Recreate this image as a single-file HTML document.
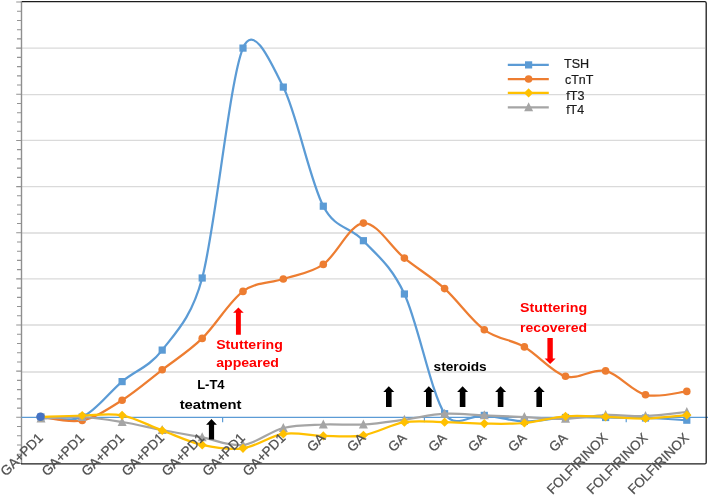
<!DOCTYPE html>
<html><head><meta charset="utf-8"><style>
html,body{margin:0;padding:0;background:#fff;}
body{width:708px;height:496px;overflow:hidden;font-family:"Liberation Sans",sans-serif;}
svg{display:block;will-change:transform;}
</style></head><body>
<svg width="708" height="496" viewBox="0 0 708 496">
<line x1="21.5" y1="48.20" x2="705" y2="48.20" stroke="#DADADA" stroke-width="1.3"/>
<line x1="21.5" y1="94.60" x2="705" y2="94.60" stroke="#DADADA" stroke-width="1.3"/>
<line x1="21.5" y1="140.40" x2="705" y2="140.40" stroke="#DADADA" stroke-width="1.3"/>
<line x1="21.5" y1="186.70" x2="705" y2="186.70" stroke="#DADADA" stroke-width="1.3"/>
<line x1="21.5" y1="233.00" x2="705" y2="233.00" stroke="#DADADA" stroke-width="1.3"/>
<line x1="21.5" y1="278.90" x2="705" y2="278.90" stroke="#DADADA" stroke-width="1.3"/>
<line x1="21.5" y1="325.00" x2="705" y2="325.00" stroke="#DADADA" stroke-width="1.3"/>
<line x1="21.5" y1="372.00" x2="705" y2="372.00" stroke="#DADADA" stroke-width="1.3"/>
<path d="M16.2,2.00H21.5 M17.0,11.23H21.5 M17.0,20.46H21.5 M17.0,29.69H21.5 M17.0,38.92H21.5 M16.2,48.14H21.5 M17.0,57.37H21.5 M17.0,66.60H21.5 M17.0,75.83H21.5 M17.0,85.06H21.5 M16.2,94.29H21.5 M17.0,103.52H21.5 M17.0,112.75H21.5 M17.0,121.98H21.5 M17.0,131.21H21.5 M16.2,140.44H21.5 M17.0,149.66H21.5 M17.0,158.89H21.5 M17.0,168.12H21.5 M17.0,177.35H21.5 M16.2,186.58H21.5 M17.0,195.81H21.5 M17.0,205.04H21.5 M17.0,214.27H21.5 M17.0,223.50H21.5 M16.2,232.72H21.5 M17.0,241.95H21.5 M17.0,251.18H21.5 M17.0,260.41H21.5 M17.0,269.64H21.5 M16.2,278.87H21.5 M17.0,288.10H21.5 M17.0,297.33H21.5 M17.0,306.56H21.5 M17.0,315.79H21.5 M16.2,325.01H21.5 M17.0,334.24H21.5 M17.0,343.47H21.5 M17.0,352.70H21.5 M17.0,361.93H21.5 M16.2,371.16H21.5 M17.0,380.39H21.5 M17.0,389.62H21.5 M17.0,398.85H21.5 M17.0,408.08H21.5 M16.2,417.30H21.5 M17.0,426.53H21.5 M17.0,435.76H21.5 M17.0,444.99H21.5 M17.0,454.22H21.5 M16.2,463.45H21.5" stroke="#939393" stroke-width="1.1" fill="none"/>
<line x1="21.5" y1="1.0" x2="21.5" y2="464" stroke="#8F8F8F" stroke-width="1.4"/>
<line x1="21.5" y1="417.3" x2="708" y2="417.3" stroke="#5B9BD5" stroke-width="1.2"/>
<path d="M222.62,417.30V422.30 M424.42,417.30V422.30 M626.22,417.30V422.30" stroke="#5B9BD5" stroke-width="1.2"/>
<path d="M22,1.6 H704.8 Q706.2,1.6 706.2,3 V462.4 Q706.2,463.9 704.8,463.9 H21" stroke="#1c1c1c" stroke-width="1.3" fill="none"/>
<path d="M41.00,417.00 C47.87,417.00 68.68,422.90 82.20,417.00 C95.72,411.10 108.77,392.75 122.10,381.60 C135.43,370.45 148.85,367.37 162.20,350.10 C175.55,332.83 191.54,317.83 202.20,278.00 C215.67,227.67 229.48,79.92 243.00,48.10 C253.96,22.29 270.60,62.10 283.30,87.10 C296.68,113.45 309.95,180.60 323.30,206.20 C335.53,229.65 349.88,226.07 363.40,240.70 C376.92,255.33 390.87,265.17 404.40,294.00 C417.93,322.83 431.28,393.47 444.60,413.70 C455.52,430.30 471.00,414.12 484.30,415.40 C497.60,416.68 510.87,421.05 524.40,421.40 C537.93,421.75 551.97,418.15 565.50,417.50 C579.03,416.85 592.27,417.42 605.60,417.50 C618.93,417.58 631.97,417.55 645.50,418.00 C659.03,418.45 679.92,419.83 686.80,420.20" stroke="#5B9BD5" stroke-width="2.25" fill="none" stroke-linejoin="round"/><rect x="37.40" y="413.40" width="7.2" height="7.2" fill="#5B9BD5"/><rect x="78.60" y="413.40" width="7.2" height="7.2" fill="#5B9BD5"/><rect x="118.50" y="378.00" width="7.2" height="7.2" fill="#5B9BD5"/><rect x="158.60" y="346.50" width="7.2" height="7.2" fill="#5B9BD5"/><rect x="198.60" y="274.40" width="7.2" height="7.2" fill="#5B9BD5"/><rect x="239.40" y="44.50" width="7.2" height="7.2" fill="#5B9BD5"/><rect x="279.70" y="83.50" width="7.2" height="7.2" fill="#5B9BD5"/><rect x="319.70" y="202.60" width="7.2" height="7.2" fill="#5B9BD5"/><rect x="359.80" y="237.10" width="7.2" height="7.2" fill="#5B9BD5"/><rect x="400.80" y="290.40" width="7.2" height="7.2" fill="#5B9BD5"/><rect x="441.00" y="410.10" width="7.2" height="7.2" fill="#5B9BD5"/><rect x="480.70" y="411.80" width="7.2" height="7.2" fill="#5B9BD5"/><rect x="520.80" y="417.80" width="7.2" height="7.2" fill="#5B9BD5"/><rect x="561.90" y="413.90" width="7.2" height="7.2" fill="#5B9BD5"/><rect x="602.00" y="413.90" width="7.2" height="7.2" fill="#5B9BD5"/><rect x="641.90" y="414.40" width="7.2" height="7.2" fill="#5B9BD5"/><rect x="683.20" y="416.60" width="7.2" height="7.2" fill="#5B9BD5"/>
<path d="M41.00,417.00 C47.87,417.57 68.68,423.20 82.20,420.40 C95.72,417.60 108.77,408.63 122.10,400.20 C135.43,391.77 148.85,380.10 162.20,369.80 C175.55,359.50 188.73,351.47 202.20,338.40 C215.67,325.33 229.48,301.30 243.00,291.40 C256.52,281.50 269.92,283.50 283.30,279.00 C296.68,274.50 309.95,273.72 323.30,264.40 C336.65,255.08 349.88,224.15 363.40,223.10 C376.92,222.05 390.87,247.18 404.40,258.10 C417.93,269.02 431.28,276.65 444.60,288.60 C457.92,300.55 471.00,320.08 484.30,329.80 C497.60,339.52 510.87,339.15 524.40,346.90 C537.93,354.65 551.97,372.30 565.50,376.30 C579.03,380.30 592.27,367.82 605.60,370.90 C618.93,373.98 631.97,391.38 645.50,394.80 C659.03,398.22 679.92,391.97 686.80,391.40" stroke="#ED7D31" stroke-width="2.25" fill="none" stroke-linejoin="round"/><circle cx="41.00" cy="417.00" r="3.8" fill="#ED7D31"/><circle cx="82.20" cy="420.40" r="3.8" fill="#ED7D31"/><circle cx="122.10" cy="400.20" r="3.8" fill="#ED7D31"/><circle cx="162.20" cy="369.80" r="3.8" fill="#ED7D31"/><circle cx="202.20" cy="338.40" r="3.8" fill="#ED7D31"/><circle cx="243.00" cy="291.40" r="3.8" fill="#ED7D31"/><circle cx="283.30" cy="279.00" r="3.8" fill="#ED7D31"/><circle cx="323.30" cy="264.40" r="3.8" fill="#ED7D31"/><circle cx="363.40" cy="223.10" r="3.8" fill="#ED7D31"/><circle cx="404.40" cy="258.10" r="3.8" fill="#ED7D31"/><circle cx="444.60" cy="288.60" r="3.8" fill="#ED7D31"/><circle cx="484.30" cy="329.80" r="3.8" fill="#ED7D31"/><circle cx="524.40" cy="346.90" r="3.8" fill="#ED7D31"/><circle cx="565.50" cy="376.30" r="3.8" fill="#ED7D31"/><circle cx="605.60" cy="370.90" r="3.8" fill="#ED7D31"/><circle cx="645.50" cy="394.80" r="3.8" fill="#ED7D31"/><circle cx="686.80" cy="391.40" r="3.8" fill="#ED7D31"/>
<path d="M41.00,418.50 C47.87,418.25 68.68,416.42 82.20,417.00 C95.72,417.58 108.77,419.83 122.10,422.00 C135.43,424.17 148.85,427.43 162.20,430.00 C175.55,432.57 188.73,434.90 202.20,437.40 C215.67,439.90 229.48,446.57 243.00,445.00 C256.52,443.43 269.92,431.42 283.30,428.00 C296.68,424.58 309.95,425.08 323.30,424.50 C336.65,423.92 349.88,425.30 363.40,424.50 C376.92,423.70 390.87,421.50 404.40,419.70 C417.93,417.90 431.28,414.42 444.60,413.70 C457.92,412.98 471.00,414.83 484.30,415.40 C497.60,415.97 510.87,416.53 524.40,417.10 C537.93,417.67 551.97,419.15 565.50,418.80 C579.03,418.45 592.27,415.47 605.60,415.00 C618.93,414.53 631.97,416.50 645.50,416.00 C659.03,415.50 679.92,412.67 686.80,412.00" stroke="#A5A5A5" stroke-width="2.25" fill="none" stroke-linejoin="round"/><path d="M41.00,413.46 L45.50,422.46 L36.50,422.46Z" fill="#A5A5A5"/><path d="M82.20,411.96 L86.70,420.96 L77.70,420.96Z" fill="#A5A5A5"/><path d="M122.10,416.96 L126.60,425.96 L117.60,425.96Z" fill="#A5A5A5"/><path d="M162.20,424.96 L166.70,433.96 L157.70,433.96Z" fill="#A5A5A5"/><path d="M202.20,432.36 L206.70,441.36 L197.70,441.36Z" fill="#A5A5A5"/><path d="M243.00,439.96 L247.50,448.96 L238.50,448.96Z" fill="#A5A5A5"/><path d="M283.30,422.96 L287.80,431.96 L278.80,431.96Z" fill="#A5A5A5"/><path d="M323.30,419.46 L327.80,428.46 L318.80,428.46Z" fill="#A5A5A5"/><path d="M363.40,419.46 L367.90,428.46 L358.90,428.46Z" fill="#A5A5A5"/><path d="M404.40,414.66 L408.90,423.66 L399.90,423.66Z" fill="#A5A5A5"/><path d="M444.60,408.66 L449.10,417.66 L440.10,417.66Z" fill="#A5A5A5"/><path d="M484.30,410.36 L488.80,419.36 L479.80,419.36Z" fill="#A5A5A5"/><path d="M524.40,412.06 L528.90,421.06 L519.90,421.06Z" fill="#A5A5A5"/><path d="M565.50,413.76 L570.00,422.76 L561.00,422.76Z" fill="#A5A5A5"/><path d="M605.60,409.96 L610.10,418.96 L601.10,418.96Z" fill="#A5A5A5"/><path d="M645.50,410.96 L650.00,419.96 L641.00,419.96Z" fill="#A5A5A5"/><path d="M686.80,406.96 L691.30,415.96 L682.30,415.96Z" fill="#A5A5A5"/>
<path d="M41.00,417.00 C47.87,416.75 68.68,415.78 82.20,415.50 C95.72,415.22 108.77,412.80 122.10,415.30 C135.43,417.80 148.85,425.57 162.20,430.50 C175.55,435.43 188.73,441.93 202.20,444.90 C215.67,447.87 229.48,450.13 243.00,448.30 C256.52,446.47 269.92,435.97 283.30,433.90 C296.68,431.83 309.95,435.67 323.30,435.90 C336.65,436.13 349.88,437.58 363.40,435.30 C376.92,433.02 390.87,424.38 404.40,422.20 C417.93,420.02 431.28,421.97 444.60,422.20 C457.92,422.43 471.00,423.47 484.30,423.60 C497.60,423.73 510.87,424.22 524.40,423.00 C537.93,421.78 551.97,417.33 565.50,416.30 C579.03,415.27 592.27,416.43 605.60,416.80 C618.93,417.17 631.97,418.78 645.50,418.50 C659.03,418.22 679.92,415.67 686.80,415.10" stroke="#FFC000" stroke-width="2.25" fill="none" stroke-linejoin="round"/><path d="M41.00,412.40 L45.60,417.00 L41.00,421.60 L36.40,417.00Z" fill="#FFC000"/><path d="M82.20,410.90 L86.80,415.50 L82.20,420.10 L77.60,415.50Z" fill="#FFC000"/><path d="M122.10,410.70 L126.70,415.30 L122.10,419.90 L117.50,415.30Z" fill="#FFC000"/><path d="M162.20,425.90 L166.80,430.50 L162.20,435.10 L157.60,430.50Z" fill="#FFC000"/><path d="M202.20,440.30 L206.80,444.90 L202.20,449.50 L197.60,444.90Z" fill="#FFC000"/><path d="M243.00,443.70 L247.60,448.30 L243.00,452.90 L238.40,448.30Z" fill="#FFC000"/><path d="M283.30,429.30 L287.90,433.90 L283.30,438.50 L278.70,433.90Z" fill="#FFC000"/><path d="M323.30,431.30 L327.90,435.90 L323.30,440.50 L318.70,435.90Z" fill="#FFC000"/><path d="M363.40,430.70 L368.00,435.30 L363.40,439.90 L358.80,435.30Z" fill="#FFC000"/><path d="M404.40,417.60 L409.00,422.20 L404.40,426.80 L399.80,422.20Z" fill="#FFC000"/><path d="M444.60,417.60 L449.20,422.20 L444.60,426.80 L440.00,422.20Z" fill="#FFC000"/><path d="M484.30,419.00 L488.90,423.60 L484.30,428.20 L479.70,423.60Z" fill="#FFC000"/><path d="M524.40,418.40 L529.00,423.00 L524.40,427.60 L519.80,423.00Z" fill="#FFC000"/><path d="M565.50,411.70 L570.10,416.30 L565.50,420.90 L560.90,416.30Z" fill="#FFC000"/><path d="M605.60,412.20 L610.20,416.80 L605.60,421.40 L601.00,416.80Z" fill="#FFC000"/><path d="M645.50,413.90 L650.10,418.50 L645.50,423.10 L640.90,418.50Z" fill="#FFC000"/><path d="M686.80,410.50 L691.40,415.10 L686.80,419.70 L682.20,415.10Z" fill="#FFC000"/>
<circle cx="40.50" cy="416.70" r="4.3" fill="#4472C4"/>
<g font-family="Liberation Sans, sans-serif" font-size="13.5" fill="#505050" stroke="#505050" stroke-width="0.25"><text x="43.90" y="438.80" transform="rotate(-45 43.90 438.80)" text-anchor="end">GA+PD1</text><text x="85.10" y="438.80" transform="rotate(-45 85.10 438.80)" text-anchor="end">GA+PD1</text><text x="125.00" y="438.80" transform="rotate(-45 125.00 438.80)" text-anchor="end">GA+PD1</text><text x="165.10" y="438.80" transform="rotate(-45 165.10 438.80)" text-anchor="end">GA+PD1</text><text x="205.10" y="438.80" transform="rotate(-45 205.10 438.80)" text-anchor="end">GA+PD1</text><text x="245.90" y="438.80" transform="rotate(-45 245.90 438.80)" text-anchor="end">GA+PD1</text><text x="286.20" y="438.80" transform="rotate(-45 286.20 438.80)" text-anchor="end">GA+PD1</text><text x="326.20" y="438.80" transform="rotate(-45 326.20 438.80)" text-anchor="end">GA</text><text x="366.30" y="438.80" transform="rotate(-45 366.30 438.80)" text-anchor="end">GA</text><text x="407.30" y="438.80" transform="rotate(-45 407.30 438.80)" text-anchor="end">GA</text><text x="447.50" y="438.80" transform="rotate(-45 447.50 438.80)" text-anchor="end">GA</text><text x="487.20" y="438.80" transform="rotate(-45 487.20 438.80)" text-anchor="end">GA</text><text x="527.30" y="438.80" transform="rotate(-45 527.30 438.80)" text-anchor="end">GA</text><text x="568.40" y="438.80" transform="rotate(-45 568.40 438.80)" text-anchor="end">GA</text><text x="608.50" y="438.80" transform="rotate(-45 608.50 438.80)" text-anchor="end" textLength="79.3" lengthAdjust="spacingAndGlyphs">FOLFIRINOX</text><text x="648.40" y="438.80" transform="rotate(-45 648.40 438.80)" text-anchor="end" textLength="79.3" lengthAdjust="spacingAndGlyphs">FOLFIRINOX</text><text x="689.70" y="438.80" transform="rotate(-45 689.70 438.80)" text-anchor="end" textLength="79.3" lengthAdjust="spacingAndGlyphs">FOLFIRINOX</text></g>
<path d="M238.40,307.40 L243.70,312.80 L240.85,312.80 L240.85,334.70 L235.95,334.70 L235.95,312.80 L233.10,312.80Z" fill="#FF0000"/>
<path d="M550.10,364.00 L555.60,358.40 L552.80,358.40 L552.80,337.90 L547.40,337.90 L547.40,358.40 L544.60,358.40Z" fill="#FF0000"/>
<path d="M211.50,419.00 L216.90,424.80 L214.10,424.80 L214.10,439.60 L208.90,439.60 L208.90,424.80 L206.10,424.80Z" fill="#000"/>
<path d="M388.80,386.30 L394.30,392.00 L391.60,392.00 L391.60,407.00 L386.00,407.00 L386.00,392.00 L383.30,392.00Z" fill="#000"/>
<path d="M428.80,386.30 L434.30,392.00 L431.60,392.00 L431.60,407.00 L426.00,407.00 L426.00,392.00 L423.30,392.00Z" fill="#000"/>
<path d="M462.60,386.30 L468.10,392.00 L465.40,392.00 L465.40,407.00 L459.80,407.00 L459.80,392.00 L457.10,392.00Z" fill="#000"/>
<path d="M500.60,386.30 L506.10,392.00 L503.40,392.00 L503.40,407.00 L497.80,407.00 L497.80,392.00 L495.10,392.00Z" fill="#000"/>
<path d="M539.20,386.30 L544.70,392.00 L542.00,392.00 L542.00,407.00 L536.40,407.00 L536.40,392.00 L533.70,392.00Z" fill="#000"/>
<text x="216.2" y="348.6" font-family="Liberation Sans, sans-serif" font-weight="bold" font-size="13.4" fill="#FF0000" textLength="66.7" lengthAdjust="spacingAndGlyphs">Stuttering</text>
<text x="216.2" y="366.7" font-family="Liberation Sans, sans-serif" font-weight="bold" font-size="13.4" fill="#FF0000" textLength="62.7" lengthAdjust="spacingAndGlyphs">appeared</text>
<text x="520.1" y="311.7" font-family="Liberation Sans, sans-serif" font-weight="bold" font-size="13.4" fill="#FF0000" textLength="67" lengthAdjust="spacingAndGlyphs">Stuttering</text>
<text x="520.1" y="332.3" font-family="Liberation Sans, sans-serif" font-weight="bold" font-size="13.4" fill="#FF0000" textLength="67" lengthAdjust="spacingAndGlyphs">recovered</text>
<text x="197.2" y="388.9" font-family="Liberation Sans, sans-serif" font-weight="bold" font-size="13.4" fill="#000" textLength="27.4" lengthAdjust="spacingAndGlyphs">L-T4</text>
<text x="179.7" y="408.9" font-family="Liberation Sans, sans-serif" font-weight="bold" font-size="13.4" fill="#000" textLength="61.8" lengthAdjust="spacingAndGlyphs">teatment</text>
<text x="433.6" y="371.2" font-family="Liberation Sans, sans-serif" font-weight="bold" font-size="13.4" fill="#000" textLength="53.1" lengthAdjust="spacingAndGlyphs">steroids</text>
<line x1="507.8" y1="64.90" x2="548.8" y2="64.90" stroke="#5B9BD5" stroke-width="2.25"/>
<rect x="525.00" y="61.30" width="7.2" height="7.2" fill="#5B9BD5"/>
<text x="564.0" y="68.0" font-family="Liberation Sans, sans-serif" font-size="13.4" fill="#1a1a1a" stroke="#1a1a1a" stroke-width="0.2" lengthAdjust="spacingAndGlyphs" textLength="25.2">TSH</text>
<line x1="507.8" y1="79.00" x2="548.8" y2="79.00" stroke="#ED7D31" stroke-width="2.25"/>
<circle cx="528.60" cy="79.00" r="3.8" fill="#ED7D31"/>
<text x="565.0" y="84.4" font-family="Liberation Sans, sans-serif" font-size="13.4" fill="#1a1a1a" stroke="#1a1a1a" stroke-width="0.2" lengthAdjust="spacingAndGlyphs" textLength="28.4">cTnT</text>
<line x1="507.8" y1="92.90" x2="548.8" y2="92.90" stroke="#FFC000" stroke-width="2.25"/>
<path d="M528.60,88.30 L533.20,92.90 L528.60,97.50 L524.00,92.90Z" fill="#FFC000"/>
<text x="566.2" y="99.5" font-family="Liberation Sans, sans-serif" font-size="13.4" fill="#1a1a1a" stroke="#1a1a1a" stroke-width="0.2" lengthAdjust="spacingAndGlyphs" textLength="18.2">fT3</text>
<line x1="507.8" y1="107.30" x2="548.8" y2="107.30" stroke="#A5A5A5" stroke-width="2.25"/>
<path d="M528.60,102.26 L533.10,111.26 L524.10,111.26Z" fill="#A5A5A5"/>
<text x="566.2" y="114.4" font-family="Liberation Sans, sans-serif" font-size="13.4" fill="#1a1a1a" stroke="#1a1a1a" stroke-width="0.2" lengthAdjust="spacingAndGlyphs" textLength="17.8">fT4</text>
</svg>
</body></html>
